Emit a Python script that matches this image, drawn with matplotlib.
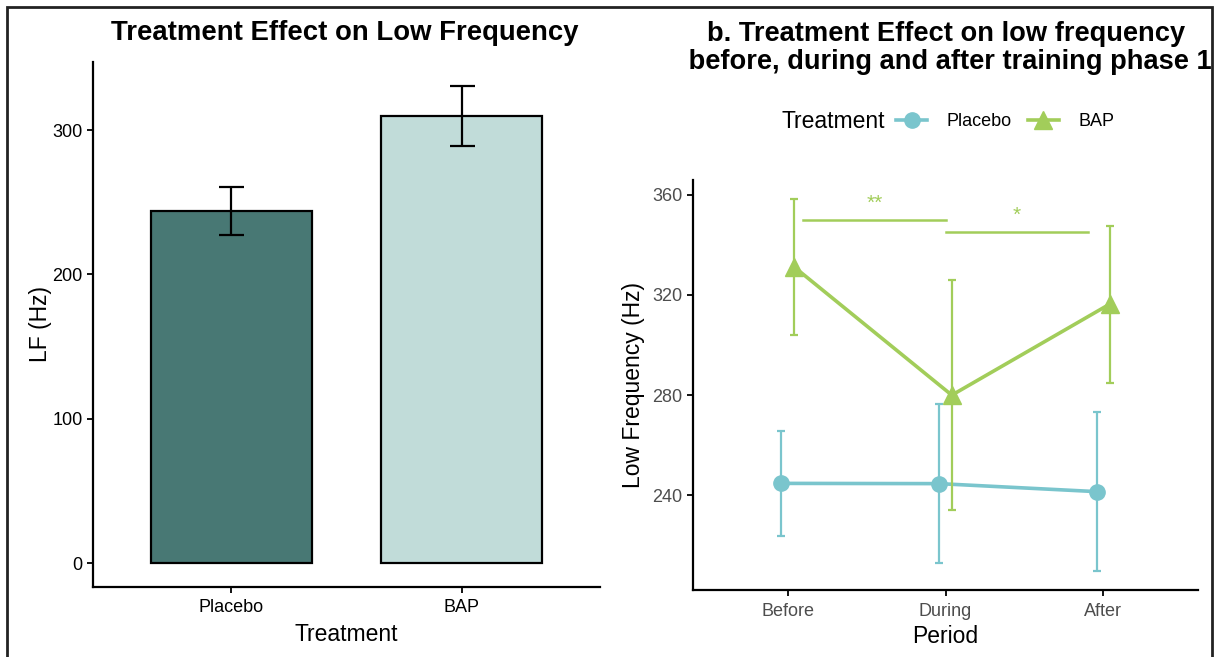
import matplotlib
matplotlib.use("Agg")
import matplotlib.pyplot as plt
from matplotlib.lines import Line2D
from matplotlib.patches import Rectangle

plt.rcParams['font.family'] = ['Liberation Sans', 'DejaVu Sans']

# Panel a: mean LF by treatment
treatments = ["Placebo", "BAP"]
lf_mean = [244, 310]
lf_se = [16.5, 20.7]
bar_colors = ["#487874", "#C1DCD9"]
left_yticks = [0, 100, 200, 300]

# Panel b: LF across periods
periods = ["Before", "During", "After"]
placebo_mean = [244.8, 244.7, 241.5]
placebo_se = [20.8, 31.8, 31.8]
bap_mean = [331.2, 280.0, 316.3]
bap_se = [27.2, 46.0, 31.3]
right_yticks = [240, 280, 320, 360]
col_placebo = "#7AC5CD"
col_bap = "#A2CD5A"

# Significance brackets: (x start, x end, y level, label)
sig_marks = [(1.1, 2.0, 350.0, "**"), (2.0, 2.9, 345.0, "*")]

W, H = 1215, 657
fig = plt.figure(figsize=(W / 100, H / 100), dpi=100)


def px_axes(x0, y0, x1, y1):
    return fig.add_axes([x0 / W, 1 - y1 / H, (x1 - x0) / W, (y1 - y0) / H])


def classic(ax, tick_color):
    for s in ["top", "right"]:
        ax.spines[s].set_visible(False)
    for s in ["left", "bottom"]:
        ax.spines[s].set_linewidth(1.6)
        ax.spines[s].set_color("black")
    ax.tick_params(axis="both", length=4.5, width=1.3, color="black",
                   labelsize=13, labelcolor=tick_color, pad=3)
    ax.tick_params(axis="x", pad=4.5)


# ---- Panel a ----
axL = px_axes(93, 62, 600, 587)
xs = [1, 2]
axL.bar(xs, lf_mean, width=0.7, color=bar_colors, edgecolor="black",
        linewidth=1.6, zorder=2)
axL.errorbar(xs, lf_mean, yerr=lf_se, fmt="none", ecolor="black",
             elinewidth=1.6, capsize=9, capthick=1.6, zorder=3)
axL.set_xlim(0.4, 2.6)
top = max(m + s for m, s in zip(lf_mean, lf_se))
axL.set_ylim(-0.05 * top, top * 1.05)
axL.set_xticks(xs)
axL.set_xticklabels(treatments)
axL.set_yticks(left_yticks)
classic(axL, "black")
axL.set_xlabel("Treatment", fontsize=16.5, labelpad=5)
axL.set_ylabel("LF (Hz)", fontsize=16.5, labelpad=0)
fig.text(345 / W, 1 - 33 / H, "Treatment Effect on Low Frequency",
         ha="center", va="center", fontsize=19.8, fontweight="bold")

# ---- Panel b ----
axR = px_axes(693, 180, 1198, 590)
xp = [1, 2, 3]
dodge = 0.04
x_pl = [x - dodge for x in xp]
x_bap = [x + dodge for x in xp]

axR.errorbar(x_pl, placebo_mean, yerr=placebo_se, fmt="none", ecolor=col_placebo,
             elinewidth=1.6, capsize=3, capthick=1.6, zorder=2)
axR.plot(x_pl, placebo_mean, color=col_placebo, linewidth=2.6, marker="o",
         markersize=11, zorder=3)
axR.errorbar(x_bap, bap_mean, yerr=bap_se, fmt="none", ecolor=col_bap,
             elinewidth=1.6, capsize=3, capthick=1.6, zorder=4)
axR.plot(x_bap, bap_mean, color=col_bap, linewidth=2.6, marker="^",
         markersize=13, zorder=5)

for xa, xb, yv, lab in sig_marks:
    axR.plot([xa, xb], [yv, yv], color=col_bap, linewidth=1.8, zorder=4)
    axR.text((xa + xb) / 2, yv + 2.8, lab, color=col_bap, ha="center",
             va="bottom", fontsize=15)

lo = min(m - s for m, s in zip(placebo_mean + bap_mean, placebo_se + bap_se))
hi = max(m + s for m, s in zip(placebo_mean + bap_mean, placebo_se + bap_se))
pad = 0.05 * (hi - lo)
axR.set_ylim(lo - pad, hi + pad)
axR.set_xlim(0.4, 3.6)
axR.set_xticks(xp)
axR.set_xticklabels(periods)
axR.set_yticks(right_yticks)
classic(axR, "#4D4D4D")
axR.set_xlabel("Period", fontsize=16.5, labelpad=4)
axR.set_ylabel("Low Frequency (Hz)", fontsize=16.5, labelpad=5)

fig.text(946 / W, 1 - 48 / H,
         "b. Treatment Effect on low frequency\n before, during and after training phase 1",
         ha="center", va="center", fontsize=19.6, fontweight="bold",
         linespacing=1.07)

# Legend above panel b
fig.text(781 / W, 1 - 122 / H, "Treatment", ha="left", va="center", fontsize=16.5)
handles = [
    Line2D([], [], color=col_placebo, linewidth=2.6, marker="o", markersize=11),
    Line2D([], [], color=col_bap, linewidth=2.6, marker="^", markersize=13),
]
fig.legend(handles, ["Placebo", "BAP"], loc="center", ncol=2,
           bbox_to_anchor=(1005 / W, 1 - 122 / H), frameon=False,
           fontsize=13, handlelength=1.75, handletextpad=1.05, columnspacing=0.9,
           borderpad=0.0)

# Outer frame
fig.add_artist(Rectangle((7 / W, -0.05), (1212 - 7) / W, 1.05 - 7 / H,
                         transform=fig.transFigure, fill=False,
                         edgecolor="#222222", linewidth=2.0))

fig.savefig("out.png", dpi=100)
